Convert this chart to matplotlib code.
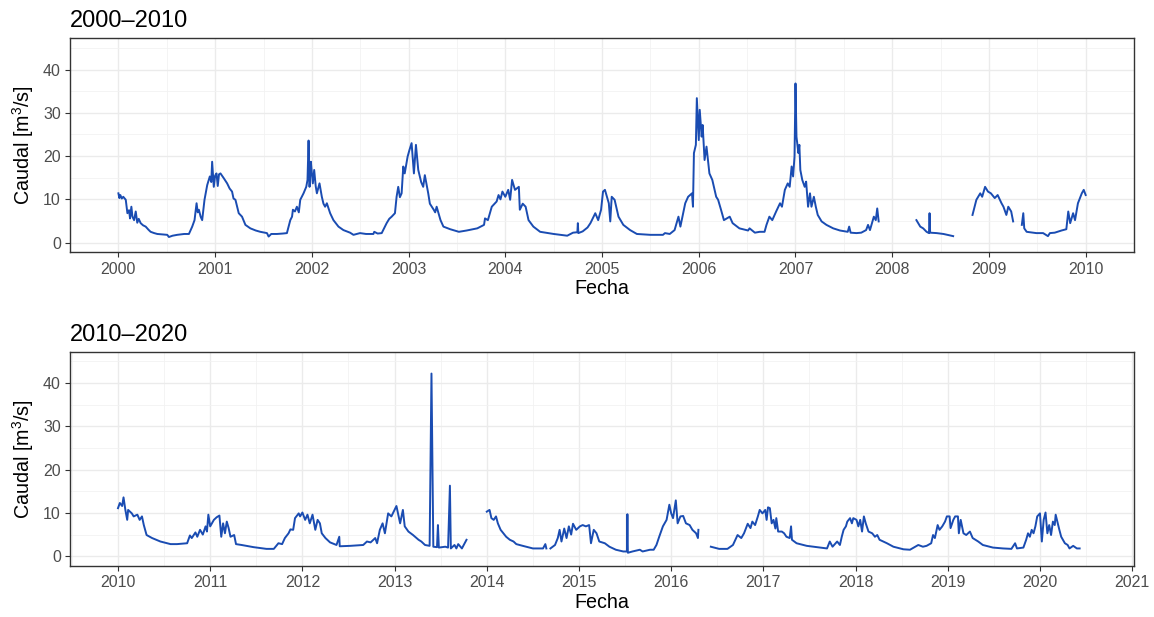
import matplotlib
matplotlib.use("Agg")
import matplotlib.pyplot as plt
from matplotlib.ticker import MultipleLocator
import numpy as np

plt.rcParams['font.family'] = ['Liberation Sans', 'DejaVu Sans']
plt.rcParams['mathtext.fontset'] = 'custom'
plt.rcParams['mathtext.rm'] = 'Liberation Sans'
plt.rcParams['mathtext.default'] = 'regular'

# ---------------------------------------------------------------
# Caudal diario (fecha en año decimal, m3/s)
# nan = sin datos
# ---------------------------------------------------------------
fecha_2000 = [
    2000.000, 2000.010, 2000.020, 2000.035, 2000.050, 2000.076, 2000.093, 2000.110, 2000.120, 2000.134,
    2000.145, 2000.162, 2000.179, 2000.195, 2000.210, 2000.230, 2000.255, 2000.282, 2000.310, 2000.333,
    2000.370, 2000.402, 2000.450, 2000.505, 2000.522, 2000.560, 2000.608, 2000.680, 2000.729, 2000.763,
    2000.787, 2000.808, 2000.820, 2000.832, 2000.850, 2000.866, 2000.890, 2000.918, 2000.945, 2000.960,
    2000.969, 2000.986, 2001.000, 2001.014, 2001.027, 2001.040, 2001.055, 2001.089, 2001.124, 2001.150,
    2001.175, 2001.190, 2001.210, 2001.244, 2001.278, 2001.313, 2001.364, 2001.420, 2001.467, 2001.536,
    2001.553, 2001.580, 2001.639, 2001.700, 2001.742, 2001.777, 2001.795, 2001.804, 2001.825, 2001.845,
    2001.865, 2001.880, 2001.914, 2001.942, 2001.955, 2001.966, 2001.976, 2001.990, 2002.000, 2002.010,
    2002.024, 2002.040, 2002.052, 2002.079, 2002.103, 2002.120, 2002.137, 2002.155, 2002.189, 2002.223,
    2002.250, 2002.275, 2002.326, 2002.395, 2002.430, 2002.498, 2002.560, 2002.636, 2002.645, 2002.680,
    2002.722, 2002.773, 2002.800, 2002.825, 2002.859, 2002.876, 2002.893, 2002.910, 2002.928, 2002.945,
    2002.960, 2002.990, 2003.010, 2003.031, 2003.055, 2003.076, 2003.100, 2003.130, 2003.151, 2003.168,
    2003.203, 2003.220, 2003.260, 2003.275, 2003.290, 2003.330, 2003.360, 2003.430, 2003.520, 2003.600,
    2003.710, 2003.780, 2003.790, 2003.820, 2003.860, 2003.910, 2003.930, 2003.950, 2003.970, 2004.000,
    2004.030, 2004.050, 2004.070, 2004.100, 2004.140, 2004.150, 2004.180, 2004.210, 2004.240, 2004.290,
    2004.360, 2004.500, 2004.640, 2004.700, 2004.745, 2004.750, 2004.755, 2004.800, 2004.850, 2004.880,
    2004.930, 2004.960, 2004.990, 2005.010, 2005.030, 2005.070, 2005.085, 2005.100, 2005.130, 2005.170,
    2005.220, 2005.290, 2005.360, 2005.500, 2005.630, 2005.650, 2005.700, 2005.750, 2005.790, 2005.810,
    2005.860, 2005.890, 2005.930, 2005.940, 2005.950, 2005.970, 2005.980, 2006.000, 2006.010, 2006.030,
    2006.040, 2006.060, 2006.080, 2006.110, 2006.140, 2006.180, 2006.200, 2006.230, 2006.260, 2006.320,
    2006.350, 2006.420, 2006.510, 2006.525, 2006.580, 2006.630, 2006.680, 2006.700, 2006.730, 2006.760,
    2006.800, 2006.840, 2006.860, 2006.890, 2006.920, 2006.940, 2006.960, 2006.975, 2006.990, 2007.000,
    2007.010, 2007.030, 2007.040, 2007.050, 2007.070, 2007.095, 2007.110, 2007.130, 2007.150, 2007.165,
    2007.190, 2007.210, 2007.230, 2007.270, 2007.320, 2007.390, 2007.460, 2007.540, 2007.555, 2007.570,
    2007.630, 2007.680, 2007.730, 2007.750, 2007.770, 2007.810, 2007.830, 2007.845, 2007.860, 2008.050,
    2008.250, 2008.290, 2008.320, 2008.355, 2008.380, 2008.386, 2008.392, 2008.460, 2008.530, 2008.630,
    2008.730, 2008.830, 2008.870, 2008.910, 2008.930, 2008.960, 2008.990, 2009.020, 2009.060, 2009.090,
    2009.130, 2009.150, 2009.180, 2009.200, 2009.230, 2009.250, 2009.300, 2009.340, 2009.355, 2009.365,
    2009.390, 2009.490, 2009.560, 2009.610, 2009.630, 2009.680, 2009.750, 2009.800, 2009.820, 2009.840,
    2009.870, 2009.890, 2009.920, 2009.960, 2009.980, 2010.000,
]
caudal_2000 = [
    11.4, 10.3, 11.0, 10.2, 10.6, 9.9, 6.8, 7.5, 5.6, 8.3,
    6.0, 5.2, 7.2, 4.6, 5.5, 4.5, 4.0, 3.7, 3.0, 2.5,
    2.2, 2.0, 1.9, 1.8, 1.3, 1.6, 1.8, 2.0, 2.0, 3.7,
    5.2, 9.1, 7.0, 7.6, 6.0, 5.2, 9.9, 13.3, 15.3, 14.0,
    18.7, 12.9, 15.5, 16.0, 13.1, 15.8, 16.0, 14.9, 13.7, 12.5,
    11.8, 10.2, 9.9, 6.8, 6.0, 4.1, 3.3, 2.8, 2.5, 2.2,
    1.4, 2.0, 2.0, 2.1, 2.2, 5.2, 6.0, 7.6, 7.2, 8.3,
    7.0, 9.9, 11.4, 12.9, 14.5, 23.6, 12.9, 18.7, 16.0, 13.7,
    16.8, 13.0, 11.4, 13.7, 10.6, 9.0, 8.3, 9.1, 6.8, 5.2,
    4.4, 3.7, 2.9, 2.3, 1.8, 2.2, 2.0, 2.0, 2.5, 2.1,
    2.2, 4.5, 5.5, 6.0, 6.8, 10.6, 12.9, 10.5, 11.4, 17.6,
    16.0, 19.9, 21.5, 23.0, 16.0, 22.6, 16.8, 14.0, 12.9, 15.6,
    11.4, 9.0, 7.6, 7.0, 8.3, 5.2, 3.7, 3.1, 2.5, 2.8,
    3.3, 4.1, 5.6, 5.2, 8.3, 9.5, 11.0, 10.0, 11.8, 10.6,
    12.2, 9.9, 14.5, 12.2, 12.9, 7.6, 9.0, 8.3, 5.2, 3.7,
    2.5, 2.0, 1.6, 2.3, 2.4, 4.5, 2.2, 2.6, 3.5, 4.5,
    6.8, 5.2, 7.6, 11.8, 12.2, 9.1, 4.9, 10.6, 9.9, 6.0,
    4.1, 2.9, 2.0, 1.8, 1.8, 2.2, 2.0, 2.9, 6.0, 3.7,
    9.1, 10.6, 11.4, 8.3, 20.7, 22.6, 33.4, 23.7, 30.7, 24.5,
    27.2, 19.1, 22.2, 16.0, 14.5, 10.6, 9.9, 7.6, 5.2, 6.0,
    4.5, 3.3, 2.8, 3.3, 2.3, 2.5, 2.5, 4.1, 6.0, 5.2,
    7.2, 9.1, 8.3, 12.2, 13.7, 12.9, 17.6, 15.3, 19.9, 36.8,
    24.5, 20.7, 22.6, 16.8, 14.5, 12.9, 14.1, 8.3, 11.4, 8.3,
    10.6, 8.3, 6.4, 4.9, 4.1, 3.3, 2.8, 2.5, 3.7, 2.3,
    2.2, 2.3, 2.9, 4.1, 2.9, 6.0, 5.2, 7.9, 4.9, np.nan,
    5.2, 3.7, 3.3, 2.5, 2.2, 6.8, 2.3, 2.2, 2.0, 1.5,
    np.nan, 6.4, 9.9, 11.4, 10.6, 12.9, 11.8, 11.4, 10.3, 11.0,
    9.1, 8.3, 6.4, 8.3, 7.2, 4.9, np.nan, 4.1, 6.8, 3.3,
    2.5, 2.2, 2.2, 1.5, 2.2, 2.3, 2.8, 3.1, 7.2, 4.5,
    6.8, 5.2, 9.1, 11.4, 12.2, 11.0,
]

fecha_2010 = [
    2010.000, 2010.020, 2010.045, 2010.060, 2010.080, 2010.100, 2010.110, 2010.150, 2010.170, 2010.210,
    2010.235, 2010.260, 2010.280, 2010.310, 2010.370, 2010.460, 2010.570, 2010.640, 2010.750, 2010.780,
    2010.800, 2010.840, 2010.860, 2010.890, 2010.920, 2010.950, 2010.965, 2010.980, 2011.000, 2011.040,
    2011.070, 2011.100, 2011.120, 2011.140, 2011.160, 2011.180, 2011.200, 2011.220, 2011.260, 2011.280,
    2011.340, 2011.470, 2011.610, 2011.690, 2011.740, 2011.780, 2011.810, 2011.850, 2011.870, 2011.900,
    2011.920, 2011.960, 2011.975, 2012.000, 2012.030, 2012.055, 2012.080, 2012.110, 2012.140, 2012.165,
    2012.190, 2012.210, 2012.250, 2012.300, 2012.370, 2012.400, 2012.405, 2012.520, 2012.660, 2012.700,
    2012.740, 2012.790, 2012.810, 2012.840, 2012.870, 2012.895, 2012.930, 2012.965, 2013.020, 2013.060,
    2013.090, 2013.110, 2013.150, 2013.200, 2013.260, 2013.290, 2013.330, 2013.380, 2013.400, 2013.420,
    2013.460, 2013.470, 2013.480, 2013.550, 2013.580, 2013.600, 2013.610, 2013.650, 2013.670, 2013.690,
    2013.730, 2013.780, 2013.900, 2014.000, 2014.030, 2014.050, 2014.075, 2014.100, 2014.120, 2014.150,
    2014.180, 2014.210, 2014.250, 2014.290, 2014.320, 2014.390, 2014.500, 2014.610, 2014.635, 2014.646,
    2014.670, 2014.690, 2014.740, 2014.770, 2014.790, 2014.810, 2014.840, 2014.865, 2014.890, 2014.915,
    2014.935, 2014.970, 2015.010, 2015.040, 2015.075, 2015.110, 2015.130, 2015.160, 2015.190, 2015.220,
    2015.280, 2015.330, 2015.400, 2015.480, 2015.520, 2015.525, 2015.530, 2015.580, 2015.660, 2015.690,
    2015.770, 2015.810, 2015.840, 2015.870, 2015.910, 2015.950, 2015.980, 2016.000, 2016.020, 2016.050,
    2016.070, 2016.100, 2016.130, 2016.160, 2016.200, 2016.230, 2016.270, 2016.290, 2016.295, 2016.360,
    2016.430, 2016.520, 2016.610, 2016.670, 2016.720, 2016.760, 2016.790, 2016.830, 2016.860, 2016.880,
    2016.910, 2016.940, 2016.960, 2016.990, 2017.020, 2017.035, 2017.050, 2017.070, 2017.090, 2017.110,
    2017.130, 2017.140, 2017.160, 2017.200, 2017.225, 2017.250, 2017.285, 2017.300, 2017.310, 2017.360,
    2017.470, 2017.580, 2017.690, 2017.720, 2017.750, 2017.800, 2017.830, 2017.850, 2017.870, 2017.895,
    2017.910, 2017.940, 2017.960, 2017.975, 2018.010, 2018.030, 2018.050, 2018.070, 2018.090, 2018.110,
    2018.140, 2018.180, 2018.210, 2018.235, 2018.260, 2018.300, 2018.340, 2018.410, 2018.520, 2018.590,
    2018.640, 2018.680, 2018.730, 2018.770, 2018.820, 2018.840, 2018.860, 2018.890, 2018.910, 2018.940,
    2018.970, 2018.990, 2019.020, 2019.030, 2019.060, 2019.080, 2019.110, 2019.120, 2019.140, 2019.170,
    2019.200, 2019.240, 2019.270, 2019.330, 2019.380, 2019.490, 2019.600, 2019.690, 2019.730, 2019.750,
    2019.820, 2019.850, 2019.870, 2019.890, 2019.910, 2019.930, 2019.950, 2019.970, 2020.000, 2020.020,
    2020.040, 2020.060, 2020.080, 2020.100, 2020.120, 2020.140, 2020.160, 2020.170, 2020.210, 2020.230,
    2020.270, 2020.300, 2020.320, 2020.360, 2020.400, 2020.430,
]
caudal_2010 = [
    11.1, 12.3, 11.6, 13.6, 10.7, 8.4, 10.7, 9.9, 9.2, 9.6,
    8.4, 9.2, 7.2, 4.9, 4.2, 3.4, 2.8, 2.8, 3.0, 4.8,
    4.2, 5.5, 4.5, 6.1, 5.0, 6.9, 5.7, 9.6, 6.9, 8.4,
    9.0, 9.4, 4.5, 7.6, 5.3, 8.0, 6.5, 4.5, 4.9, 2.8,
    2.6, 2.1, 1.7, 1.7, 3.0, 2.8, 4.2, 5.3, 6.2, 6.1,
    8.8, 9.9, 9.2, 10.1, 8.4, 9.6, 7.6, 9.6, 6.1, 8.4,
    7.6, 5.3, 4.2, 3.2, 2.6, 4.5, 2.3, 2.4, 2.6, 3.4,
    3.2, 4.2, 3.0, 6.1, 7.6, 5.3, 9.9, 9.2, 11.6, 7.6,
    10.7, 6.9, 5.7, 4.9, 3.8, 3.4, 2.6, 2.4, 42.2, 2.2,
    2.1, 7.2, 2.0, 2.2, 2.0, 16.3, 1.8, 2.6, 1.8, 2.8,
    1.8, 3.8, np.nan, 10.3, 10.7, 8.8, 8.4, 9.2, 7.6, 6.1,
    5.3, 4.5, 3.8, 3.4, 2.8, 2.4, 1.8, 1.8, 2.8, 1.8,
    np.nan, 1.8, 2.6, 4.2, 6.1, 3.4, 6.4, 4.2, 6.9, 5.0,
    7.5, 6.1, 6.9, 7.2, 6.9, 7.2, 3.0, 6.1, 5.3, 3.4,
    3.0, 2.2, 1.5, 1.1, 1.1, 9.7, 0.8, 1.1, 1.5, 1.1,
    1.5, 1.5, 2.6, 4.5, 6.9, 8.4, 11.9, 9.9, 8.8, 12.9,
    7.6, 9.2, 9.3, 7.6, 7.2, 6.1, 5.3, 4.2, 6.1, np.nan,
    2.2, 1.7, 1.7, 2.6, 4.9, 4.2, 5.3, 7.5, 6.5, 8.0,
    7.2, 9.2, 10.7, 9.9, 10.7, 8.4, 11.3, 11.1, 7.6, 8.4,
    6.4, 8.8, 5.7, 5.7, 5.3, 4.5, 4.2, 6.9, 3.8, 3.0,
    2.4, 2.1, 1.8, 3.4, 2.2, 3.4, 2.6, 4.5, 6.1, 6.9,
    8.0, 8.8, 7.6, 8.8, 8.4, 6.9, 8.4, 5.7, 9.2, 7.6,
    5.7, 5.3, 4.5, 4.9, 3.8, 3.4, 3.0, 2.2, 1.6, 1.5,
    2.1, 2.6, 2.2, 2.4, 3.0, 4.9, 4.2, 7.2, 6.1, 6.9,
    8.0, 9.2, 9.2, 6.5, 8.4, 9.2, 9.2, 5.3, 8.4, 5.3,
    4.9, 5.7, 4.2, 3.4, 2.6, 2.0, 1.8, 1.7, 3.0, 1.8,
    2.0, 3.8, 5.3, 4.5, 6.1, 5.3, 6.9, 9.2, 9.9, 3.4,
    8.4, 10.1, 5.3, 7.2, 4.9, 8.0, 7.2, 9.6, 6.1, 4.5,
    3.0, 2.6, 1.8, 2.4, 1.8, 1.8,
]

paneles = [
    ("2000\u20132010", fecha_2000, caudal_2000, (1999.5, 2010.5), range(2000, 2011)),
    ("2010\u20132020", fecha_2010, caudal_2010, (2009.48, 2021.02), range(2010, 2022)),
]

fig = plt.figure(figsize=(11.54, 6.17), dpi=100)
posiciones = [[0.0607, 0.591, 0.922, 0.347], [0.0607, 0.0827, 0.922, 0.3473]]

for pos, (titulo, fechas, caudal, lim, anios) in zip(posiciones, paneles):
    ax = fig.add_axes(pos)
    ax.plot(fechas, caudal, color="#1A4CB2", linewidth=1.4)
    ax.set_xlim(*lim)
    ax.set_ylim(-2.25, 47.25)
    ax.set_xticks(list(anios))
    ax.xaxis.set_minor_locator(MultipleLocator(0.5))
    ax.set_yticks([0, 10, 20, 30, 40])
    ax.yaxis.set_minor_locator(MultipleLocator(5))
    ax.grid(which="major", color="#EBEBEB", linewidth=1.0)
    ax.grid(which="minor", color="#F2F2F2", linewidth=0.6)
    ax.set_axisbelow(True)
    for s in ax.spines.values():
        s.set_color("#333333")
        s.set_linewidth(1.0)
    ax.tick_params(which="major", length=3.6, width=0.8, color="#333333",
                   labelcolor="#4D4D4D", labelsize=11.5, pad=3)
    ax.tick_params(which="minor", length=0)
    ax.set_title(titulo, loc="left", fontsize=17, pad=8)
    ax.set_xlabel("Fecha", fontsize=14.2, labelpad=2)
    ax.set_ylabel("Caudal [m$^{3}$/s]", fontsize=14.2, labelpad=5)

plt.savefig("out.png", dpi=100)
